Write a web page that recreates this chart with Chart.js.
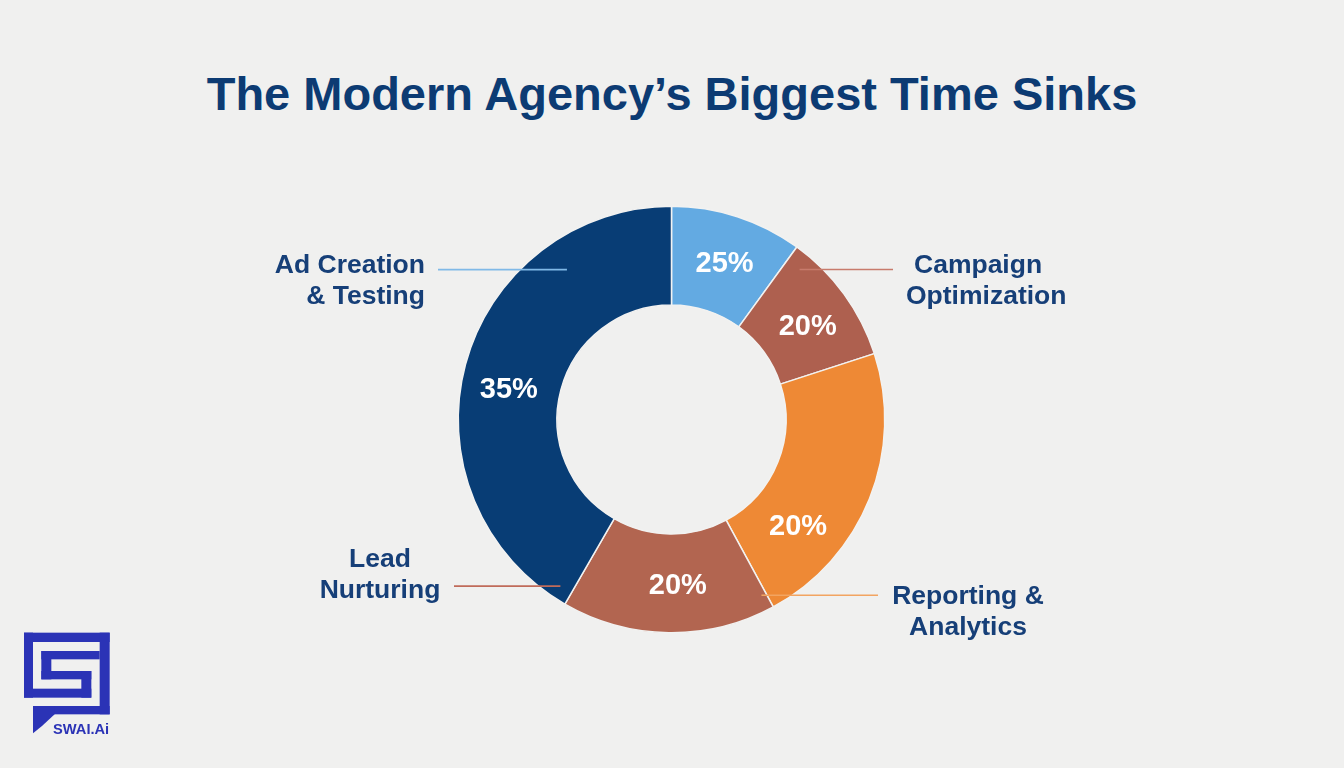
<!DOCTYPE html>
<html>
<head>
<meta charset="utf-8">
<script src="https://cdn.jsdelivr.net/npm/chart.js@4.4.1/dist/chart.umd.min.js"></script>
<style>
    html, body { margin: 0; padding: 0; }
    body {
        width: 1344px; height: 768px; overflow: hidden; position: relative;
        background: #f0f0ef;
        font-family: "Liberation Sans", Arial, Helvetica, sans-serif;
    }
    #chart { position: absolute; left: 0; top: 0; }
    .title {
        position: absolute; left: 0; top: 70px; width: 1344px; margin: 0;
        text-align: center; font-size: 47px; line-height: 47px; font-weight: 700;
        color: #0c3b73;
    }
    .callout {
        position: absolute; font-size: 26.5px; line-height: 31px; font-weight: 700;
        color: #163f78; white-space: nowrap;
    }
    #logo { position: absolute; left: 18px; top: 626px; }
</style>
</head>
<body>
<h1 class="title">The Modern Agency’s Biggest Time Sinks</h1>
<canvas id="chart" width="1344" height="768"></canvas>

<div class="callout" style="right:919px; top:249px; text-align:right;">Ad Creation<br>&amp; Testing</div>
<div class="callout" style="left:906px; top:249px;"><span style="padding-left:8px">Campaign</span><br>Optimization</div>
<div class="callout" style="left:280px; top:543px; width:200px; text-align:center;">Lead<br>Nurturing</div>
<div class="callout" style="left:868px; top:580px; width:200px; text-align:center;">Reporting &amp;<br>Analytics</div>

<svg id="logo" width="100" height="115" viewBox="0 0 300 345">
    <g fill="#2b33b6">
        <rect x="18" y="20" width="257" height="28"/>
        <rect x="18" y="20" width="27" height="195"/>
        <rect x="245" y="20" width="30" height="245"/>
        <rect x="70" y="75" width="175" height="25"/>
        <rect x="70" y="75" width="30" height="85"/>
        <rect x="70" y="135" width="150" height="25"/>
        <rect x="190" y="135" width="30" height="80"/>
        <rect x="18" y="188" width="202" height="27"/>
        <rect x="45" y="240" width="230" height="25"/>
        <polygon points="45,240 110,240 110,265 72,300 45,322"/>
        <text x="105" y="325" font-size="44" font-weight="700" font-family="Liberation Sans, Arial, sans-serif">SWAI.Ai</text>
    </g>
</svg>

<script>
// printed percentages, clockwise from 12 o'clock
const sliceLabels = ['25%', '20%', '20%', '20%', '35%'];
// sweep of each slice as drawn in the picture (degrees of the ring)
const sliceSweep = [36, 36, 79.5, 58.5, 150];
const sliceColors = ['#63aae2', '#ae604f', '#ee8935', '#b26550', '#083d75'];

// outer callouts
const calloutNames = ['Ad Creation & Testing', 'Campaign Optimization', 'Lead Nurturing', 'Reporting & Analytics'];

// where each printed percentage sits along its slice (0 = start, 1 = end)
const labelAt = [0.52, 0.54, 0.73, 0.45, 0.47];

// leader lines: anchor inside the ring (angle from top, fraction of radius) and the outer x
const leaders = [
    { angle: 325.1, r: 0.857, toX: 438, color: '#80b9e7' },
    { angle: 40.5, r: 0.925, toX: 893, color: '#c87b6c' },
    { angle: 213.7, r: 0.939, toX: 454, color: '#c06b5a' },
    { angle: 152.9, r: 0.926, toX: 878, color: '#f2a461' }
];

const ringText = {
    id: 'ringText',
    afterDatasetsDraw(chart) {
        const ctx = chart.ctx;
        const arcs = chart.getDatasetMeta(0).data;
        if (!arcs.length) return;
        const { x: cx, y: cy, outerRadius } = arcs[0].getProps(['x', 'y', 'outerRadius'], true);

        // leader lines
        ctx.save();
        ctx.lineWidth = 1.6;
        leaders.forEach(l => {
            const a = (l.angle - 90) * Math.PI / 180;
            const x = cx + Math.cos(a) * outerRadius * l.r;
            const y = cy + Math.sin(a) * outerRadius * l.r;
            ctx.strokeStyle = l.color;
            ctx.beginPath();
            ctx.moveTo(x, y);
            ctx.lineTo(l.toX, y);
            ctx.stroke();
        });
        ctx.restore();

        // percentages
        ctx.save();
        ctx.fillStyle = '#ffffff';
        ctx.font = '700 29px "Liberation Sans", Arial, sans-serif';
        ctx.textAlign = 'center';
        ctx.textBaseline = 'middle';
        arcs.forEach((arc, i) => {
            const p = arc.getProps(['x', 'y', 'startAngle', 'endAngle', 'innerRadius', 'outerRadius'], true);
            const a = p.startAngle + (p.endAngle - p.startAngle) * labelAt[i];
            const r = (p.innerRadius + p.outerRadius) / 2 + 1.5;
            ctx.fillText(sliceLabels[i], p.x + Math.cos(a) * r, p.y + Math.sin(a) * r + 1);
        });
        ctx.restore();
    }
};

new Chart(document.getElementById('chart'), {
    type: 'doughnut',
    data: {
        labels: sliceLabels,
        datasets: [{
            data: sliceSweep,
            backgroundColor: sliceColors,
            borderColor: '#f2f2f1',
            borderWidth: 1.5,
            hoverOffset: 0,
            offset: 0
        }]
    },
    options: {
        responsive: false,
        animation: false,
        cutout: '53.7%',
        layout: { padding: { left: 457.5, right: 458.5, top: 205.5, bottom: 134.5 } },
        plugins: {
            legend: { display: false },
            tooltip: { enabled: false }
        }
    },
    plugins: [ringText]
});
</script>
</body>
</html>
